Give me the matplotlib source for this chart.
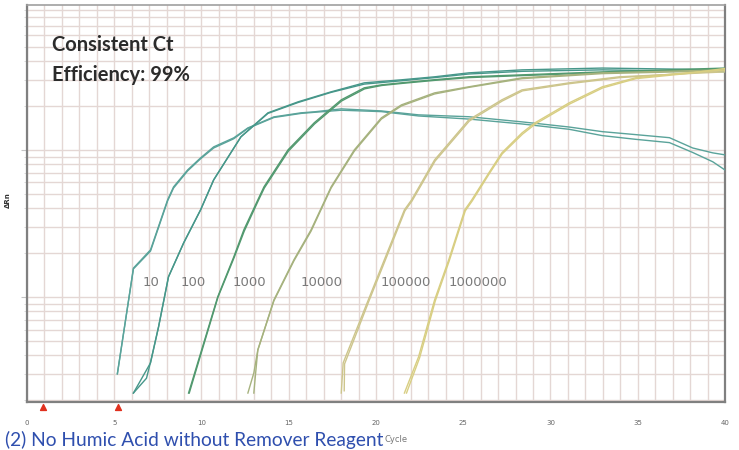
import numpy as np
import matplotlib
matplotlib.use('Agg')
import matplotlib.pyplot as plt
from matplotlib.ticker import MultipleLocator, LogLocator, NullFormatter

# amplification curves (cycle, delta Rn), two replicates per dilution
dilutions = ['10', '100', '1000', '10000', '100000', '1000000']

cyc_10a = [5.18, 6.10, 7.08, 8.06, 8.40, 9.21, 9.95, 10.70, 11.85, 12.66, 14.15, 15.71, 16.46, 18.01,
           20.31, 22.44, 25.32, 28.37, 31.07, 32.97, 34.87, 36.82, 38.15, 39.30, 40.0]
rn_10a = [0.030, 0.157, 0.209, 0.457, 0.56, 0.731, 0.882, 1.048, 1.207, 1.41, 1.676, 1.786, 1.814, 1.90,
          1.84, 1.73, 1.68, 1.55, 1.43, 1.33, 1.27, 1.21, 1.03, 0.954, 0.925]
cyc_10b = [5.18, 6.10, 7.08, 8.06, 8.40, 9.21, 9.95, 10.70, 11.85, 12.66, 14.15, 15.71, 16.46, 18.01,
           20.31, 22.44, 25.32, 28.37, 31.07, 32.97, 34.87, 36.82, 38.15, 39.30, 40.0]
rn_10b = [0.030, 0.155, 0.205, 0.45, 0.55, 0.72, 0.87, 1.03, 1.19, 1.40, 1.66, 1.77, 1.80, 1.86,
          1.82, 1.70, 1.62, 1.50, 1.38, 1.25, 1.18, 1.12, 0.96, 0.83, 0.73]

cyc_100a = [6.10, 7.08, 7.54, 8.11, 8.98, 9.95, 10.70, 12.26, 13.81, 15.54, 17.43, 19.33, 21.46, 23.36,
            25.32, 28.37, 32.97, 40.0]
rn_100a = [0.0222, 0.0356, 0.0625, 0.137, 0.233, 0.391, 0.625, 1.226, 1.786, 2.122, 2.481, 2.856, 2.995,
           3.139, 3.34, 3.50, 3.60, 3.50]
cyc_100b = [6.10, 6.85, 7.08, 7.54, 8.11, 8.98, 9.95, 10.70, 12.26, 13.81, 15.54, 17.43, 19.33, 21.46,
            23.36, 25.32, 28.37, 32.97, 40.0]
rn_100b = [0.0222, 0.028, 0.036, 0.0625, 0.137, 0.233, 0.391, 0.625, 1.226, 1.77, 2.10, 2.46, 2.80, 2.95,
           3.10, 3.28, 3.42, 3.50, 3.40]

cyc_1000a = [9.26, 10.93, 11.85, 12.43, 13.23, 13.58, 14.96, 16.46, 18.01, 19.33, 20.31, 21.46, 23.36,
             25.32, 28.37, 32.97, 40.0]
rn_1000a = [0.0222, 0.10, 0.187, 0.286, 0.457, 0.56, 1.0, 1.527, 2.188, 2.642, 2.768, 2.856, 3.0,
            3.14, 3.237, 3.39, 3.60]
cyc_1000b = [9.30, 10.95, 11.87, 12.45, 13.25, 13.60, 14.98, 16.48, 18.03, 19.35, 20.33, 21.48, 23.38,
             25.34, 28.39, 32.99, 40.0]
rn_1000b = [0.0222, 0.10, 0.185, 0.28, 0.45, 0.55, 0.98, 1.50, 2.15, 2.60, 2.74, 2.83, 2.97,
            3.10, 3.20, 3.35, 3.55]

cyc_10000a = [12.66, 13.00, 13.23, 14.15, 15.30, 16.28, 17.43, 18.76, 20.31, 21.46, 23.36, 25.32, 28.37,
              32.97, 40.0]
rn_10000a = [0.0222, 0.0304, 0.0436, 0.0954, 0.179, 0.286, 0.56, 1.0, 1.651, 2.023, 2.441, 2.684, 3.09,
             3.34, 3.50]
cyc_10000b = [13.00, 13.10, 13.23, 14.15, 15.30, 16.28, 17.43, 18.76, 20.31, 21.46, 23.36, 25.32, 28.37,
              32.97, 40.0]
rn_10000b = [0.0222, 0.030, 0.0436, 0.094, 0.176, 0.28, 0.55, 0.98, 1.62, 1.99, 2.40, 2.66, 3.05,
             3.30, 3.45]

cyc_100000a = [18.01, 18.12, 19.56, 20.48, 21.63, 22.04, 23.36, 25.32, 27.21, 28.37, 31.07, 33.95, 40.0]
rn_100000a = [0.0222, 0.0356, 0.0954, 0.179, 0.391, 0.457, 0.855, 1.60, 2.188, 2.559, 2.856, 3.139, 3.39]
cyc_100000b = [18.18, 18.20, 19.60, 20.52, 21.66, 22.07, 23.39, 25.35, 27.24, 28.40, 31.10, 33.98, 40.0]
rn_100000b = [0.0230, 0.0350, 0.094, 0.176, 0.385, 0.45, 0.84, 1.57, 2.15, 2.52, 2.82, 3.10, 3.45]

cyc_1000000a = [21.63, 22.44, 23.36, 24.17, 25.09, 25.49, 26.47, 27.21, 28.37, 29.11, 31.07, 32.97, 34.87,
                37.75, 40.0]
rn_1000000a = [0.0222, 0.0391, 0.0954, 0.179, 0.391, 0.457, 0.698, 0.954, 1.305, 1.527, 2.088, 2.684, 3.09,
               3.34, 3.50]
cyc_1000000b = [21.75, 22.50, 23.40, 24.20, 25.12, 25.52, 26.50, 27.24, 28.40, 29.14, 31.10, 33.00, 34.90,
                37.78, 40.0]
rn_1000000b = [0.0222, 0.0385, 0.094, 0.176, 0.385, 0.45, 0.69, 0.94, 1.28, 1.50, 2.05, 2.64, 3.05,
               3.30, 3.58]

baseline_marks = [0.9, 5.2]

curves = [
    (cyc_10a, rn_10a, cyc_10b, rn_10b, '#5aa39a'),
    (cyc_100a, rn_100a, cyc_100b, rn_100b, '#47978a'),
    (cyc_1000a, rn_1000a, cyc_1000b, rn_1000b, '#52996f'),
    (cyc_10000a, rn_10000a, cyc_10000b, rn_10000b, '#a6b27e'),
    (cyc_100000a, rn_100000a, cyc_100000b, rn_100000b, '#cdc58c'),
    (cyc_1000000a, rn_1000000a, cyc_1000000b, rn_1000000b, '#d8ce82'),
]
label_x = [7.08, 9.55, 12.72, 16.86, 21.69, 25.83]
label_y = 0.1245

fig = plt.figure(figsize=(7.39, 4.5), dpi=100)
ax = fig.add_axes([0.0365, 0.1067, 0.9445, 0.8823])

for ca, ra, cb, rb, col in curves:
    ax.plot(ca, ra, color=col, lw=1.0, zorder=3)
    ax.plot(cb, rb, color=col, lw=1.0, zorder=3)

for lab, lx in zip(dilutions, label_x):
    ax.text(lx, label_y, lab, fontsize=9.5, color='#7a7a7a', ha='center', va='center', zorder=4)

ax.set_yscale('log')
ax.set_xlim(0, 40)
ax.set_ylim(0.0193, 9.67)
ax.xaxis.set_major_locator(MultipleLocator(5))
ax.xaxis.set_minor_locator(MultipleLocator(1))
ax.yaxis.set_major_locator(LogLocator(base=10))
ax.yaxis.set_minor_locator(LogLocator(base=10, subs=np.arange(2, 10)))
ax.yaxis.set_major_formatter(NullFormatter())
ax.yaxis.set_minor_formatter(NullFormatter())
ax.grid(which='both', color='#e4d7d4', lw=1.0, zorder=0)
ax.set_axisbelow(True)
ax.tick_params(axis='x', which='both', length=0, pad=13, labelsize=5, labelcolor='#666666')
ax.tick_params(axis='y', which='major', length=4, color='#c4c4c4')
ax.tick_params(axis='y', which='minor', length=2, color='#d4d4d4')

for side in ['left', 'bottom', 'right']:
    ax.spines[side].set_color('#808080')
    ax.spines[side].set_linewidth(1.6)
ax.spines['top'].set_color('#a0a0a0')
ax.spines['top'].set_linewidth(1.2)

# baseline markers under the axis
ax.scatter(baseline_marks, [0.0178] * 2, marker='^', s=18, color='#e0301e', clip_on=False, zorder=5)

ax.text(0.036, 0.899, 'Consistent Ct', transform=ax.transAxes, fontsize=14.5, fontweight='bold',
        family='Lato', color='#2b2b2b', va='center')
ax.text(0.036, 0.824, 'Efficiency: 99%', transform=ax.transAxes, fontsize=14.5, fontweight='bold',
        family='Lato', color='#2b2b2b', va='center')

fig.text(0.011, 0.555, '\u0394Rn', rotation=90, fontsize=5, fontweight='bold', color='#333333',
         ha='center', va='center')
fig.text(0.536, 0.024, 'Cycle', fontsize=6, color='#777777', ha='center', va='center')
fig.text(0.007, 0.022, '(2) No Humic Acid without Remover Reagent', fontsize=13.8, family='Lato',
         color='#2f4fae', ha='left', va='center')

fig.savefig('out.png', dpi=100)
